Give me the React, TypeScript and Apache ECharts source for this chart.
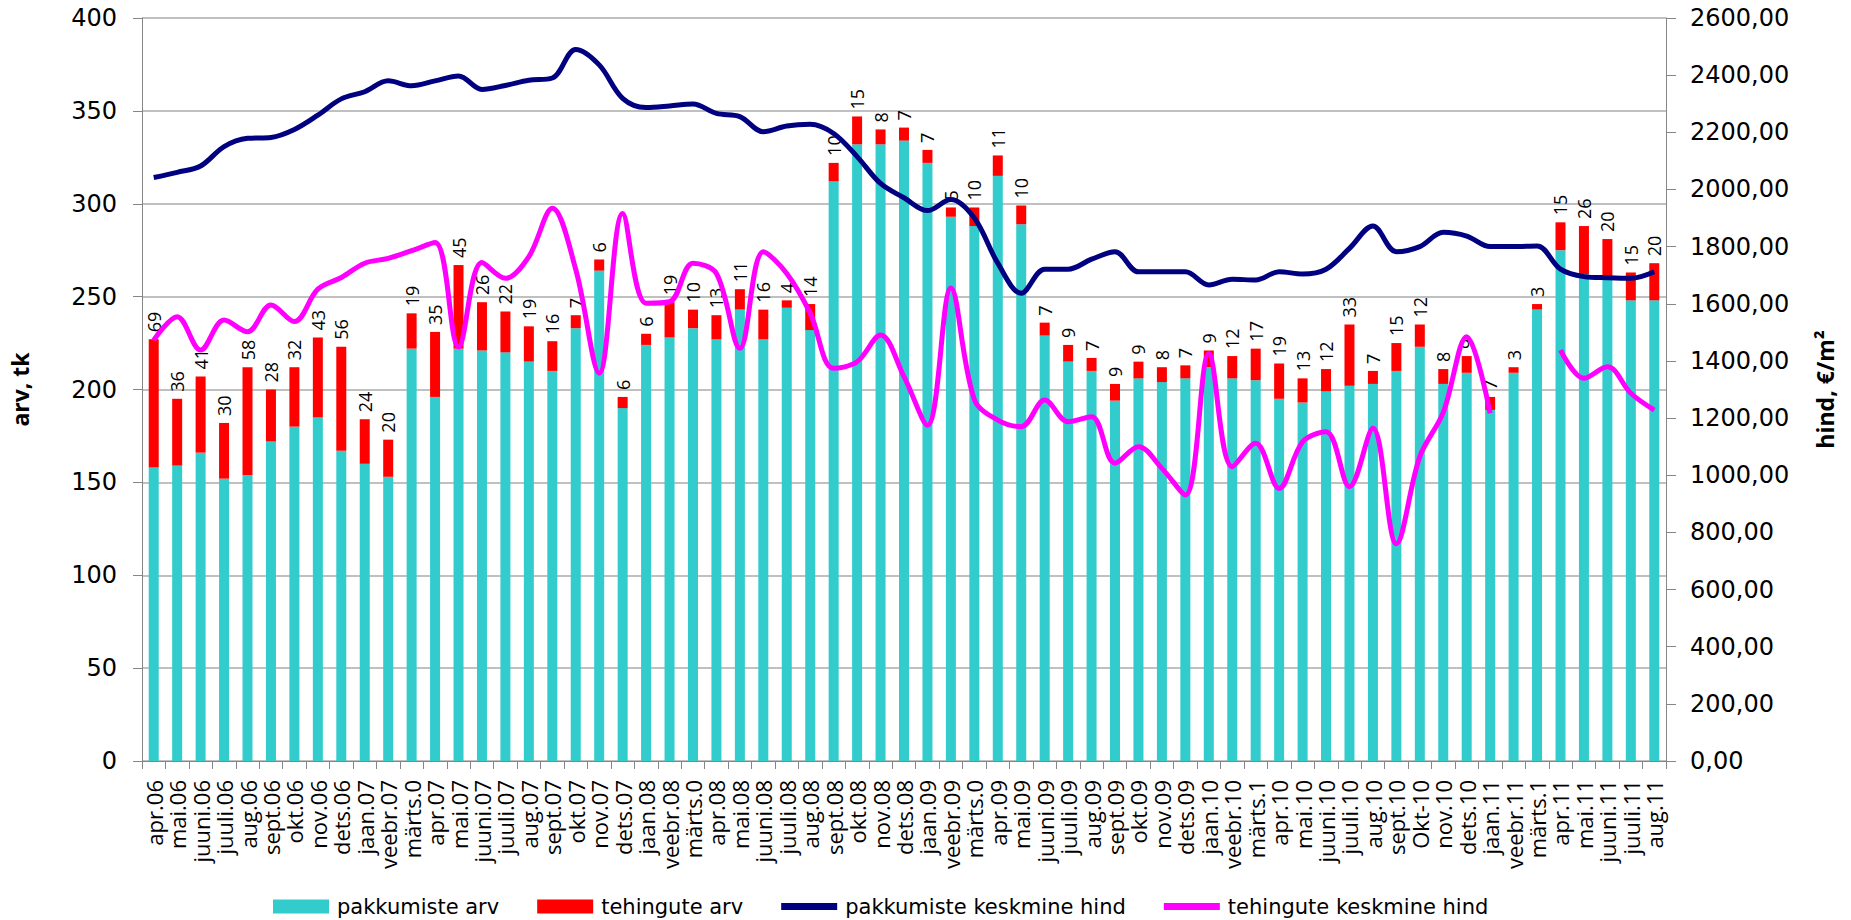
import React, { useEffect, useRef } from 'react';
import * as echarts from 'echarts';

const categories = [
  'apr.06', 'mai.06', 'juuni.06', 'juuli.06', 'aug.06', 'sept.06', 'okt.06', 'nov.06', 'dets.06',
  'jaan.07', 'veebr.07', 'märts.0', 'apr.07', 'mai.07', 'juuni.07', 'juuli.07', 'aug.07', 'sept.07', 'okt.07', 'nov.07', 'dets.07',
  'jaan.08', 'veebr.08', 'märts.0', 'apr.08', 'mai.08', 'juuni.08', 'juuli.08', 'aug.08', 'sept.08', 'okt.08', 'nov.08', 'dets.08',
  'jaan.09', 'veebr.09', 'märts.0', 'apr.09', 'mai.09', 'juuni.09', 'juuli.09', 'aug.09', 'sept.09', 'okt.09', 'nov.09', 'dets.09',
  'jaan.10', 'veebr.10', 'märts.1', 'apr.10', 'mai.10', 'juuni.10', 'juuli.10', 'aug.10', 'sept.10', 'Okt-10', 'nov.10', 'dets.10',
  'jaan.11', 'veebr.11', 'märts.1', 'apr.11', 'mai.11', 'juuni.11', 'juuli.11', 'aug.11',
];

const pakkumisteArv = [
  158, 159, 166, 152, 154, 172, 180, 185, 167,
  160, 153, 222, 196, 222, 221, 220, 215, 210, 233, 264, 190,
  224, 228, 233, 227, 243, 227, 244, 232, 312, 332, 332, 334,
  322, 293, 288, 315, 289, 229, 215, 210, 194, 206, 204, 206,
  212, 206, 205, 195, 193, 199, 202, 203, 210, 223, 203, 209,
  189, 209, 243, 275, 262, 261, 248, 248,
];

const tehinguteArv = [
  69, 36, 41, 30, 58, 28, 32, 43, 56,
  24, 20, 19, 35, 45, 26, 22, 19, 16, 7, 6, 6,
  6, 19, 10, 13, 11, 16, 4, 14, 10, 15, 8, 7,
  7, 5, 10, 11, 10, 7, 9, 7, 9, 9, 8, 7,
  9, 12, 17, 19, 13, 12, 33, 7, 15, 12, 8, 9,
  7, 3, 3, 15, 26, 20, 15, 20,
];

const pakkumisteHind = [
  2042, 2060, 2082, 2150, 2179, 2182, 2210, 2260, 2317,
  2342, 2380, 2363, 2380, 2397, 2350, 2364, 2382, 2390, 2490, 2436, 2319,
  2287, 2292, 2299, 2266, 2255, 2202, 2222, 2228, 2196, 2115, 2021, 1971,
  1926, 1965, 1900, 1742, 1637, 1721, 1721, 1756, 1782, 1712, 1712, 1712,
  1666, 1686, 1683, 1712, 1704, 1721, 1794, 1872, 1782, 1800, 1850, 1837,
  1800, 1800, 1802, 1721, 1695, 1691, 1689, 1712,
];

const tehinguteHind: (number | null)[] = [
  1473, 1555, 1438, 1543, 1502, 1596, 1538, 1651, 1692,
  1742, 1759, 1786, 1814, 1449, 1744, 1689, 1765, 1934, 1720, 1357, 1916,
  1602, 1607, 1742, 1706, 1444, 1782, 1706, 1567, 1374, 1397, 1491, 1345,
  1175, 1655, 1265, 1193, 1170, 1263, 1187, 1205, 1042, 1100, 1024, 931,
  1425, 1030, 1112, 954, 1117, 1152, 960, 1164, 760, 1065, 1220, 1485,
  1217, null, null, 1438, 1339, 1380, 1287, 1228,
];

const AXIS_GRAY = '#868686';
const LINE_ICON = 'path://M0 0H56V7H0Z';

export default function App() {
  const ref = useRef<HTMLDivElement>(null);

  useEffect(() => {
    document.body.style.margin = '0';
    document.body.style.overflow = 'hidden';
    const chart = echarts.init(ref.current!, null, { renderer: 'svg' });
    chart.setOption({
      animation: false,
      backgroundColor: '#ffffff',
      grid: { left: 142, right: 185, top: 18, bottom: 159, containLabel: false },
      legend: {
        left: 268,
        top: 891,
        itemWidth: 56,
        itemHeight: 14,
        itemGap: 38,
        selectedMode: false,
        symbolKeepAspect: true,
        textStyle: { fontFamily: 'DejaVu Sans', fontSize: 21, color: '#000', padding: [0, 0, 0, 3] },
        data: [
          { name: 'pakkumiste arv', icon: 'rect' },
          { name: 'tehingute arv', icon: 'rect' },
          { name: 'pakkumiste keskmine hind', icon: LINE_ICON },
          { name: 'tehingute keskmine hind', icon: LINE_ICON },
        ],
      },
      xAxis: {
        type: 'category',
        data: categories,
        boundaryGap: true,
        axisLine: { lineStyle: { color: AXIS_GRAY, width: 1 } },
        axisTick: { show: true, length: 8, lineStyle: { color: AXIS_GRAY } },
        axisLabel: {
          interval: 0,
          rotate: 90,
          margin: 19,
          fontFamily: 'Open Sans',
          fontSize: 22,
          color: '#000',
        },
      },
      yAxis: [
        {
          type: 'value',
          min: 0,
          max: 400,
          interval: 50,
          name: 'arv, tk',
          nameLocation: 'middle',
          nameRotate: 90,
          nameGap: 111,
          nameTextStyle: { fontFamily: 'Open Sans', fontWeight: 'bold', fontSize: 23, color: '#000' },
          axisLine: { show: true, lineStyle: { color: AXIS_GRAY } },
          axisTick: { show: true, length: 9, lineStyle: { color: AXIS_GRAY } },
          axisLabel: { margin: 25, fontFamily: 'DejaVu Sans', fontSize: 24, color: '#000' },
          splitLine: { show: true, lineStyle: { color: '#c0c0c0', width: 2 } },
        },
        {
          type: 'value',
          min: 0,
          max: 2600,
          interval: 200,
          position: 'right',
          name: 'hind, €/m²',
          nameLocation: 'middle',
          nameRotate: 90,
          nameGap: 147,
          nameTextStyle: { fontFamily: 'Open Sans', fontWeight: 'bold', fontSize: 23, color: '#000' },
          axisLine: { show: true, lineStyle: { color: AXIS_GRAY } },
          axisTick: { show: true, length: 10, lineStyle: { color: AXIS_GRAY } },
          axisLabel: {
            margin: 24,
            fontFamily: 'DejaVu Sans',
            fontSize: 24,
            color: '#000',
            formatter: (v: number) => v.toFixed(2).replace('.', ','),
          },
          splitLine: { show: false },
        },
      ],
      series: [
        {
          name: 'pakkumiste arv',
          type: 'bar',
          stack: 'arv',
          barWidth: 10,
          itemStyle: { color: '#33CCCC' },
          data: pakkumisteArv,
        },
        {
          name: 'tehingute arv',
          type: 'bar',
          stack: 'arv',
          barWidth: 10,
          itemStyle: { color: '#FF0000' },
          label: {
            show: true,
            position: 'top',
            rotate: 90,
            align: 'left',
            verticalAlign: 'middle',
            distance: 7,
            fontFamily: 'Open Sans',
            fontSize: 18,
            color: '#000',
          },
          data: tehinguteArv,
        },
        {
          name: 'pakkumiste keskmine hind',
          type: 'line',
          yAxisIndex: 1,
          smooth: 0.35,
          symbol: 'none',
          lineStyle: { color: '#000080', width: 5 },
          itemStyle: { color: '#000080' },
          data: pakkumisteHind,
          z: 3,
        },
        {
          name: 'tehingute keskmine hind',
          type: 'line',
          yAxisIndex: 1,
          smooth: 0.35,
          symbol: 'none',
          connectNulls: false,
          lineStyle: { color: '#FF00FF', width: 5 },
          itemStyle: { color: '#FF00FF' },
          data: tehinguteHind,
          z: 4,
        },
      ],
    });
    return () => chart.dispose();
  }, []);

  return <div ref={ref} style={{ width: 1851, height: 920 }} />;
}
